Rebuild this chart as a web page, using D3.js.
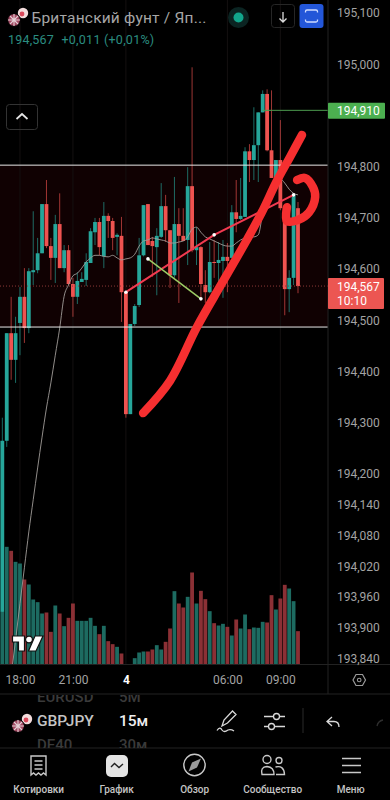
<!DOCTYPE html>
<html>
<head>
<meta charset="utf-8">
<script src="https://cdnjs.cloudflare.com/ajax/libs/d3/7.8.5/d3.min.js"></script>
<style>
  html, body { margin: 0; padding: 0; background: #000; }
  svg { display: block; }
  text { font-family: Roboto, sans-serif; }
  .axis .domain { display: none; }
  .axis line { display: none; }
</style>
</head>
<body>
<div id="chart"></div>
<script>
// candle values, one entry per 15m bar
const opens = [193.931,194.265,194.475,194.423,194.495,194.546,194.485,194.594,194.598,194.631,194.727,194.645,194.622,194.688,194.602,194.637,194.571,194.546,194.575,194.579,194.612,194.672,194.692,194.625,194.704,194.694,194.663,194.665,194.555,194.317,194.493,194.530,194.627,194.727,194.655,194.643,194.663,194.723,194.676,194.588,194.688,194.665,194.657,194.762,194.637,194.643,194.569,194.555,194.614,194.612,194.616,194.624,194.622,194.711,194.698,194.702,194.830,194.813,194.842,194.906,194.942,194.832,194.778,194.813,194.721,194.561,194.583,194.719];
const highs = [194.310,194.475,194.546,194.507,194.565,194.602,194.602,194.713,194.661,194.727,194.774,194.661,194.706,194.748,194.647,194.647,194.583,194.594,194.594,194.631,194.680,194.700,194.700,194.731,194.709,194.700,194.670,194.702,194.555,194.493,194.532,194.661,194.725,194.727,194.663,194.680,194.768,194.745,194.676,194.780,194.719,194.719,194.799,194.994,194.682,194.645,194.598,194.653,194.657,194.653,194.657,194.651,194.725,194.774,194.778,194.838,194.844,194.916,194.906,194.949,194.951,194.949,194.813,194.891,194.721,194.598,194.746,194.731];
const lows = [193.931,194.253,194.384,194.378,194.432,194.456,194.475,194.569,194.592,194.631,194.641,194.579,194.573,194.602,194.594,194.569,194.507,194.532,194.575,194.567,194.612,194.647,194.627,194.602,194.661,194.637,194.627,194.497,194.310,194.317,194.489,194.526,194.625,194.647,194.585,194.549,194.661,194.653,194.563,194.583,194.534,194.655,194.608,194.633,194.608,194.544,194.534,194.553,194.583,194.559,194.544,194.555,194.622,194.672,194.696,194.702,194.770,194.774,194.770,194.906,194.830,194.778,194.770,194.715,194.510,194.516,194.569,194.553];
const closes = [194.265,194.475,194.423,194.475,194.546,194.485,194.596,194.598,194.631,194.727,194.645,194.622,194.688,194.602,194.637,194.571,194.546,194.577,194.581,194.614,194.674,194.692,194.643,194.704,194.694,194.661,194.667,194.555,194.317,194.493,194.528,194.627,194.725,194.647,194.645,194.665,194.723,194.676,194.588,194.688,194.665,194.655,194.762,194.637,194.643,194.571,194.555,194.614,194.612,194.618,194.624,194.616,194.711,194.698,194.704,194.830,194.813,194.842,194.906,194.942,194.832,194.778,194.813,194.719,194.561,194.583,194.745,194.567];
const volumes = [158,353,341,308,303,255,240,195,187,153,156,98,177,153,115,140,183,131,131,131,140,116,91,116,70,61,53,33,1,1,19,36,39,39,45,58,45,68,108,220,183,171,203,276,183,221,196,160,124,117,122,113,87,135,108,150,106,111,110,128,126,208,165,198,239,228,190,100];

// moving average starts at bar 2
const maStart = 2;
const maValues = [193.806,193.876,193.947,194.017,194.087,194.150,194.212,194.272,194.329,194.378,194.432,194.485,194.547,194.569,194.587,194.592,194.602,194.614,194.622,194.627,194.627,194.625,194.624,194.627,194.622,194.618,194.620,194.622,194.629,194.645,194.655,194.657,194.661,194.659,194.657,194.655,194.651,194.651,194.653,194.655,194.663,194.678,194.682,194.672,194.663,194.659,194.655,194.651,194.647,194.645,194.645,194.651,194.657,194.661,194.663,194.663,194.667,194.708,194.735,194.754,194.770,194.776,194.768,194.756,194.748,194.745];

const priceTicks = [195.1,195.0,194.8,194.7,194.6,194.5,194.4,194.3,194.2,194.14,194.08,194.02,193.96,193.9,193.84];
const timeTicks = [4,16,28,51,63];
const timeLabels = ['18:00','21:00','4','06:00','09:00'];

const lastPrice = 194.567;
const targetPrice = 194.910;
const zoneTop = 194.803;
const zoneBottom = 194.487;

// drawings on the chart, [bar, price]
const pinkLine = [[28,194.555],[48,194.667],[66,194.745]];
const greenLine = [[33,194.620],[45,194.542]];
const brushLine = [[31.9,194.319],[38,194.382],[44.1,194.487],[49.8,194.573],[55.4,194.657],[58.8,194.711],[62.2,194.772],[65.2,194.819],[67.9,194.862]];
const brushHook = [[64.5,194.721],[64.5,194.694],[67,194.696],[69.5,194.711],[70.9,194.741],[70.4,194.760],[68.6,194.778],[66.8,194.774]];

const tabs = ['Котировки','График','Обзор','Сообщество','Меню'];

const UP = '#26a69a', DOWN = '#ef5350';
const UP_VOL = '#1d6b61', DOWN_VOL = '#8b3035';
const AXIS_TEXT = '#a3a3a3';

const width = 390, height = 800;
const plotRight = 328, plotBottom = 664.5;

const svg = d3.select('#chart').append('svg')
  .attr('width', width)
  .attr('height', height)
  .style('background', '#000');

// scales
const x = d3.scaleLinear().domain([0, 67]).range([2.33, 298]);
const y = d3.scaleLinear().domain([193.84, 195.1]).range([658.5, 13]);
const yVol = d3.scaleLinear().domain([0, 600]).range([plotBottom, plotBottom - 200]);
const barW = 3.8;

svg.append('clipPath').attr('id', 'plot-clip')
  .append('rect').attr('width', plotRight).attr('height', plotBottom);

const plot = svg.append('g').attr('clip-path', 'url(#plot-clip)');

// shaded zone
plot.append('rect')
  .attr('x', 0).attr('width', plotRight)
  .attr('y', y(zoneTop)).attr('height', y(zoneBottom) - y(zoneTop))
  .attr('fill', '#100102');

// faint grid
plot.selectAll('.vgrid').data(timeTicks).enter().append('line')
  .attr('x1', d => x(d)).attr('x2', d => x(d))
  .attr('y1', 0).attr('y2', plotBottom)
  .attr('stroke', '#141010');

// volume
plot.selectAll('.vol').data(volumes).enter().append('rect')
  .attr('x', (d, i) => x(i) - barW / 2)
  .attr('width', barW)
  .attr('y', d => yVol(d))
  .attr('height', d => plotBottom - yVol(d))
  .attr('fill', (d, i) => closes[i] >= opens[i] ? UP_VOL : DOWN_VOL);

// candles
const candles = plot.selectAll('.candle').data(opens).enter().append('g');
candles.append('line')
  .attr('x1', (d, i) => x(i)).attr('x2', (d, i) => x(i))
  .attr('y1', (d, i) => y(highs[i])).attr('y2', (d, i) => y(lows[i]))
  .attr('stroke', (d, i) => closes[i] >= opens[i] ? UP : DOWN)
  .attr('stroke-opacity', 0.65);
candles.append('rect')
  .attr('x', (d, i) => x(i) - barW / 2)
  .attr('width', barW)
  .attr('y', (d, i) => y(Math.max(opens[i], closes[i])))
  .attr('height', (d, i) => Math.max(1, Math.abs(y(opens[i]) - y(closes[i]))))
  .attr('fill', (d, i) => closes[i] >= opens[i] ? UP : DOWN);

// moving average
const maLine = d3.line()
  .x((d, i) => x(i + maStart))
  .y(d => y(d))
  .curve(d3.curveMonotoneX);
plot.append('path').datum(maValues)
  .attr('d', maLine)
  .attr('fill', 'none')
  .attr('stroke', '#a09c99')
  .attr('stroke-width', 0.9);

// zone borders, target and last price lines
plot.selectAll('.zone').data([zoneTop, zoneBottom]).enter().append('line')
  .attr('x1', 0).attr('x2', plotRight)
  .attr('y1', d => y(d)).attr('y2', d => y(d))
  .attr('stroke', '#e8e8e8')
  .attr('stroke-width', 1);

plot.append('line')
  .attr('x1', x(59)).attr('x2', plotRight)
  .attr('y1', y(targetPrice)).attr('y2', y(targetPrice))
  .attr('stroke', '#4c9a4f');

plot.append('line')
  .attr('x1', 0).attr('x2', plotRight)
  .attr('y1', y(lastPrice)).attr('y2', y(lastPrice))
  .attr('stroke', '#8d3a38')
  .attr('stroke-dasharray', '1 2');

// trend lines with handles
const pointLine = d3.line().x(d => x(d[0])).y(d => y(d[1]));
plot.append('path').datum(pinkLine)
  .attr('d', pointLine).attr('fill', 'none')
  .attr('stroke', '#f23a50').attr('stroke-width', 2);
plot.append('path').datum(greenLine)
  .attr('d', pointLine).attr('fill', 'none')
  .attr('stroke', '#9ccc65').attr('stroke-width', 1.5);
plot.selectAll('.handle').data(pinkLine.concat(greenLine)).enter().append('circle')
  .attr('cx', d => x(d[0])).attr('cy', d => y(d[1]))
  .attr('r', 1.8).attr('fill', '#fff');

// hand drawn strokes
const brush = d3.line().x(d => x(d[0])).y(d => y(d[1])).curve(d3.curveCatmullRom);
[brushLine, brushHook].forEach(pts => {
  plot.append('path').datum(pts)
    .attr('d', brush).attr('fill', 'none')
    .attr('stroke', '#f62f30').attr('stroke-width', 8.5)
    .attr('stroke-linecap', 'round').attr('stroke-linejoin', 'round');
});

// logo
const logo = svg.append('g').attr('transform', 'translate(12,635)')
  .attr('fill', '#fff').attr('stroke', '#111').attr('stroke-width', 1.2);
logo.append('path').attr('d', 'M0.5 1H12.5V16H6.5V7H0.5Z');
logo.append('circle').attr('cx', 17).attr('cy', 4.5).attr('r', 3.4);
logo.append('path').attr('d', 'M23 1H31L24 16H16.5Z');

// separators
const sep = [[plotRight, 0, plotRight, 694], [0, plotBottom, 390, plotBottom], [0, 694, 390, 694], [0, 748, 390, 748]];
svg.selectAll('.sep').data(sep).enter().append('line')
  .attr('x1', d => d[0]).attr('y1', d => d[1]).attr('x2', d => d[2]).attr('y2', d => d[3])
  .attr('stroke', '#222');

// axes
const ru = d3.formatLocale({ decimal: ',', thousands: '', grouping: [3], currency: ['', ''] });
const fmt = ru.format('.3f');

const yAxis = d3.axisRight(y).tickValues(priceTicks).tickSize(0).tickPadding(0).tickFormat(fmt);
svg.append('g').attr('class', 'axis')
  .attr('transform', 'translate(337,0)')
  .call(yAxis)
  .call(g => g.selectAll('text').attr('fill', AXIS_TEXT).attr('font-size', 12).attr('font-family', 'Roboto'));

const xAxis = d3.axisBottom(x).tickValues(timeTicks).tickSize(0).tickPadding(0)
  .tickFormat((d, i) => timeLabels[i]);
svg.append('g').attr('class', 'axis')
  .attr('transform', 'translate(0,675)')
  .call(xAxis)
  .call(g => g.selectAll('text')
    .attr('fill', (d, i) => timeLabels[i] === '4' ? '#fff' : AXIS_TEXT)
    .attr('font-weight', (d, i) => timeLabels[i] === '4' ? 700 : 400)
    .attr('font-size', 12).attr('font-family', 'Roboto'));

// price labels
svg.append('rect').attr('x', plotRight).attr('y', y(targetPrice) - 7.5)
  .attr('width', 57).attr('height', 16).attr('rx', 1).attr('fill', '#4caf50');
svg.append('text').attr('x', 337).attr('y', y(targetPrice) + 5)
  .attr('fill', '#fff').attr('font-size', 12).text(fmt(targetPrice));

svg.append('rect').attr('x', plotRight).attr('y', 278)
  .attr('width', 56).attr('height', 31).attr('rx', 1).attr('fill', '#ec5652');
svg.append('text').attr('x', 337).attr('y', 290.5)
  .attr('fill', '#fff').attr('font-size', 12).text(fmt(lastPrice));
svg.append('text').attr('x', 337).attr('y', 305)
  .attr('fill', '#fff').attr('font-size', 12).text('10:10');

// flags
function flags(g, cx, cy) {
  const jp = g.append('g').attr('transform', `translate(${cx + 9},${cy - 7})`);
  jp.append('circle').attr('r', 5.2).attr('fill', '#f3dcdc');
  jp.append('circle').attr('r', 2.4).attr('cx', -1).attr('cy', 1).attr('fill', '#d9485a');
  const uk = g.append('g').attr('transform', `translate(${cx},${cy})`);
  uk.append('circle').attr('r', 6.3).attr('fill', '#a24a63').attr('stroke', '#000');
  uk.append('path').attr('d', 'M-6 0H6M0 -6V6M-4 -4L4 4M4 -4L-4 4')
    .attr('stroke', '#e5d0d6').attr('stroke-width', 1.1);
}

// header
flags(svg.append('g'), 14, 20);
svg.append('text').attr('x', 31.5).attr('y', 23)
  .attr('fill', '#a6a6a6').attr('font-size', 15.5).attr('letter-spacing', 0.2)
  .text('Британский фунт / Яп...');
svg.append('text').attr('x', 8).attr('y', 44)
  .attr('fill', '#2b8d80').attr('font-size', 12.5).attr('letter-spacing', 0.2)
  .text('194,567');
svg.append('text').attr('x', 61.5).attr('y', 44)
  .attr('fill', '#2b8d80').attr('font-size', 12.5).attr('letter-spacing', 0.25)
  .text('+0,011 (+0,01%)');

svg.append('circle').attr('cx', 238.5).attr('cy', 17.5).attr('r', 10.5).attr('fill', '#0b2422');
svg.append('circle').attr('cx', 238.5).attr('cy', 17.5).attr('r', 5).attr('fill', '#12a68c');

svg.append('rect').attr('x', 271.5).attr('y', 4.5).attr('width', 23).attr('height', 23).attr('rx', 3)
  .attr('fill', 'none').attr('stroke', '#262626');
svg.append('path').attr('d', 'M283 12V22M279.5 18.5L283 22L286.5 18.5')
  .attr('fill', 'none').attr('stroke', '#ddd').attr('stroke-width', 1.3);

svg.append('rect').attr('x', 299.5).attr('y', 4).attr('width', 24).attr('height', 24).attr('rx', 3).attr('fill', '#2356d8');
svg.append('path').attr('d', 'M305.5 12.5V11.5Q305.5 10 307 10H316Q317.5 10 317.5 11.5V12.5M305.5 19.5V20.5Q305.5 22 307 22H316Q317.5 22 317.5 20.5V19.5')
  .attr('fill', 'none').attr('stroke', '#cfdcff').attr('stroke-width', 1.3);

svg.append('rect').attr('x', 6.5).attr('y', 104.5).attr('width', 31).attr('height', 25).attr('rx', 3)
  .attr('fill', 'none').attr('stroke', '#333');
svg.append('path').attr('d', 'M16.5 119L22 114L27.5 119')
  .attr('fill', 'none').attr('stroke', '#e6e6e6').attr('stroke-width', 1.7);

// settings hexagon
svg.append('path').attr('d', 'M353 680L356 674.5H362.5L365.5 680L362.5 685.5H356Z')
  .attr('fill', 'none').attr('stroke', '#9a9a9a').attr('stroke-width', 1.2);
svg.append('circle').attr('cx', 359.2).attr('cy', 680).attr('r', 1.8)
  .attr('fill', 'none').attr('stroke', '#9a9a9a').attr('stroke-width', 1.1);

// symbol picker rows
svg.append('clipPath').attr('id', 'rows-clip')
  .append('rect').attr('y', 695).attr('width', 390).attr('height', 53);
const rows = svg.append('g').attr('clip-path', 'url(#rows-clip)');
const rowData = [['EURUSD', '5М', 702, '#3a3a3a', 15], ['GBPJPY', '15м', 726, '#c4c4c4', 15.5], ['DE40', '30м', 750, '#3a3a3a', 15]];
rowData.forEach(r => {
  rows.append('text').attr('x', 37).attr('y', r[2]).attr('fill', r[3]).attr('font-size', r[4]).attr('font-weight', 500).text(r[0]);
  rows.append('text').attr('x', 119).attr('y', r[2]).attr('fill', r[1] === '15м' ? '#eee' : r[3]).attr('font-size', r[4]).attr('font-weight', 500).text(r[1]);
});
flags(svg.append('g'), 18, 726);

// toolbar icons
const tool = svg.append('g').attr('fill', 'none').attr('stroke', '#d8d8d8').attr('stroke-width', 1.3);
tool.append('path').attr('d', 'M222 726L224 720L232.5 711L236 714.5L227.5 723ZM217 730.5Q220 726 222 730Q224 733 228 730Q231 729 234 731');
tool.append('path').attr('d', 'M264 716.5H273M280 716.5H285M264 726.5H268M275 726.5H285');
tool.append('circle').attr('cx', 276.5).attr('cy', 716.5).attr('r', 3);
tool.append('circle').attr('cx', 271.5).attr('cy', 726.5).attr('r', 3);
tool.append('path').attr('d', 'M332 717L327 721.5L332 726M327 721.5H334Q339 721.5 339 727');
svg.append('line').attr('x1', 303).attr('x2', 303).attr('y1', 708).attr('y2', 733).attr('stroke', '#2a2a2a');
svg.append('path').attr('d', 'M377 726Q378 721 383 720')
  .attr('fill', 'none').attr('stroke', '#2e2e2e').attr('stroke-width', 1.3);

// tab bar
const tabX = d3.scalePoint().domain(tabs).range([38.7, 350.7]);
svg.selectAll('.tab').data(tabs).enter().append('text')
  .attr('x', d => tabX(d)).attr('y', 793)
  .attr('text-anchor', 'middle')
  .attr('fill', '#c4c4c4').attr('font-size', 10).attr('font-weight', 500)
  .text(d => d);

const icons = svg.append('g').attr('fill', 'none').attr('stroke', '#c8c8c8').attr('stroke-width', 1.4);
icons.append('path').attr('d', 'M31 756H46V775L43.5 773L41 775L38.5 773L36 775L33.5 773L31 775ZM34.5 761H42.5M34.5 765H42.5M34.5 769H42.5');
svg.append('rect').attr('x', 106).attr('y', 755).attr('width', 22).attr('height', 22).attr('rx', 5).attr('fill', '#e4e4e4');
svg.append('path').attr('d', 'M111 767L114.5 763.5L119 767.5L123 764')
  .attr('fill', 'none').attr('stroke', '#222').attr('stroke-width', 1.4);
icons.append('circle').attr('cx', 194.5).attr('cy', 765).attr('r', 10.7);
svg.append('path').attr('d', 'M201 758.5L197 767.5L188.5 771.5L192 762.5Z').attr('fill', '#9a9a9a');
icons.append('circle').attr('cx', 267).attr('cy', 759.5).attr('r', 4);
icons.append('circle').attr('cx', 279).attr('cy', 760.5).attr('r', 3);
icons.append('path').attr('d', 'M262 774.5Q260 767 267 766.5Q274 767 274 774.5ZM275.5 767Q284 765 284.5 774.5H276');
icons.append('path').attr('d', 'M342 758.5H361M342 765.5H361M342 772.5H361').attr('stroke-width', 1.7);
</script>
</body>
</html>
